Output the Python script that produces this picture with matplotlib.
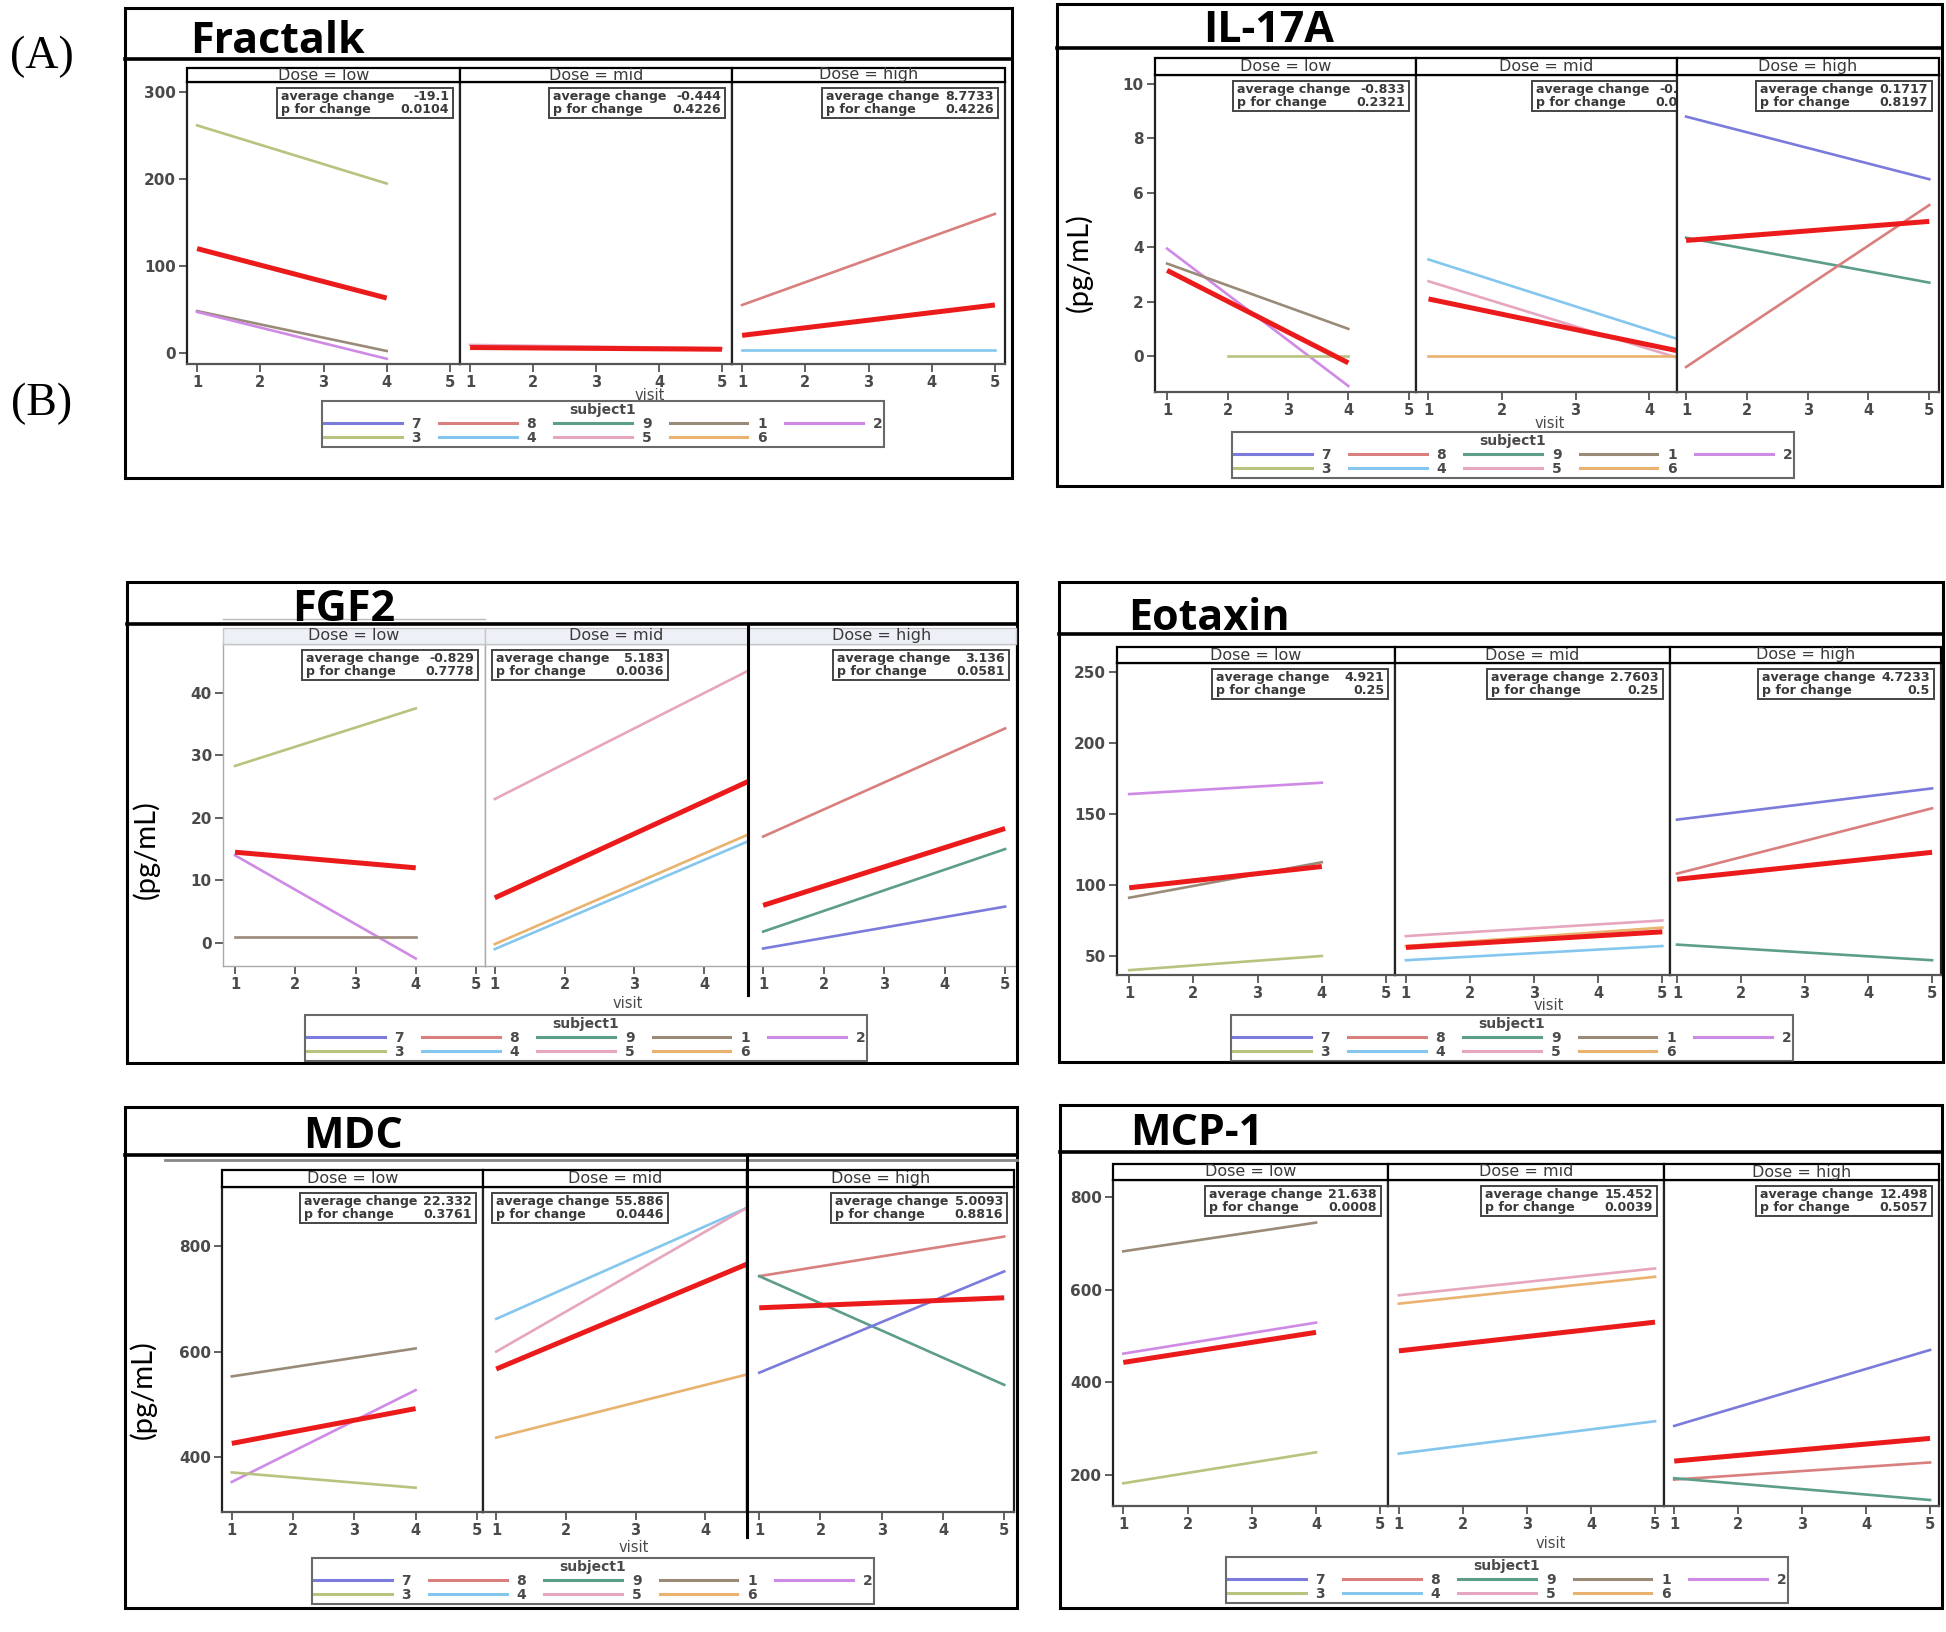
import matplotlib
matplotlib.use('Agg')
import matplotlib.pyplot as plt
from matplotlib.patches import Rectangle
from matplotlib.lines import Line2D

# ---- data: (subject, value at first visit, value at last visit[, first visit]) ----
doses = ['low', 'mid', 'high']
low_visits = [1, 4]
other_visits = [1, 5]

fractalk_low = [('3', 262, 195), ('1', 48, 2), ('2', 47, -7), ('mean', 120, 63)]
fractalk_mid = [('5', 9, 5), ('mean', 6, 4)]
fractalk_high = [('8', 55, 160), ('4', 3, 3), ('mean', 20, 55)]
fractalk_stats = [('-19.1', '0.0104'), ('-0.444', '0.4226'), ('8.7733', '0.4226')]
fractalk_yticks = [0, 100, 200, 300]

il17a_low = [('2', 3.95, -1.1), ('1', 3.4, 1.0), ('3', 0, 0, 2), ('mean', 3.15, -0.25)]
il17a_mid = [('4', 3.55, 0.1), ('5', 2.75, -0.57), ('6', 0, 0), ('mean', 2.1, -0.15)]
il17a_high = [('7', 8.8, 6.5), ('9', 4.35, 2.7), ('8', -0.4, 5.55), ('mean', 4.25, 4.95)]
il17a_stats = [('-0.833', '0.2321'), ('-0.563', '0.0912'), ('0.1717', '0.8197')]
il17a_yticks = [0, 2, 4, 6, 8, 10]

fgf2_low = [('3', 28.3, 37.5), ('2', 14, -2.5), ('1', 1, 1), ('mean', 14.5, 12)]
fgf2_mid = [('5', 23, 45.6), ('6', -0.2, 19.1), ('4', -1.0, 18.0), ('mean', 7.2, 27.7)]
fgf2_high = [('8', 17, 34.3), ('9', 1.8, 15), ('7', -0.9, 5.8), ('mean', 6, 18.3)]
fgf2_stats = [('-0.829', '0.7778'), ('5.183', '0.0036'), ('3.136', '0.0581')]
fgf2_yticks = [0, 10, 20, 30, 40]

eotaxin_low = [('2', 164, 172), ('1', 91, 116), ('3', 40, 50), ('mean', 98, 113)]
eotaxin_mid = [('5', 64, 75), ('6', 57, 70), ('4', 47, 57), ('mean', 56, 67)]
eotaxin_high = [('7', 146, 168), ('8', 108, 154), ('9', 58, 47), ('mean', 104, 123)]
eotaxin_stats = [('4.921', '0.25'), ('2.7603', '0.25'), ('4.7233', '0.5')]
eotaxin_yticks = [50, 100, 150, 200, 250]

mdc_low = [('1', 553, 606), ('2', 353, 527), ('3', 371, 342), ('mean', 426, 492)]
mdc_mid = [('4', 662, 896), ('5', 600, 903), ('6', 437, 570), ('mean', 567, 788)]
mdc_high = [('8', 743, 818), ('9', 743, 537), ('7', 560, 752), ('mean', 683, 702)]
mdc_stats = [('22.332', '0.3761'), ('55.886', '0.0446'), ('5.0093', '0.8816')]
mdc_yticks = [400, 600, 800]

mcp1_low = [('1', 683, 745), ('2', 462, 529), ('3', 182, 249), ('mean', 443, 508)]
mcp1_mid = [('5', 588, 646), ('6', 570, 628), ('4', 246, 316), ('mean', 468, 530)]
mcp1_high = [('7', 306, 470), ('8', 190, 227), ('9', 193, 146), ('mean', 230, 279)]
mcp1_stats = [('21.638', '0.0008'), ('15.452', '0.0039'), ('12.498', '0.5057')]
mcp1_yticks = [200, 400, 600, 800]

# legend reads row by row: 7 8 9 1 2 / 3 4 5 6 (matplotlib fills by column)
legend_order = ['7', '3', '8', '4', '9', '5', '1', '6', '2']

# ---- styles ----
colors = {'7': '#7b7bdc', '8': '#d97f7d', '9': '#5d9e8b', '1': '#9a8b79',
          '2': '#cf8ae6', '3': '#b9c27e', '4': '#84c6ee', '5': '#e6a6bf',
          '6': '#e9b26f'}
MEAN = '#ec1b1b'
SAS = ['DejaVu Sans']
GREY_TXT = '#4a4a4a'

W, H = 1946, 1632
fig = plt.figure(figsize=(W / 100, H / 100), dpi=100)


def fx(x):
    return x / W


def fy(y):
    return 1 - y / H


def fig_line(x0, y0, x1, y1, color='black', lw=2.0):
    fig.add_artist(Line2D([fx(x0), fx(x1)], [fy(y0), fy(y1)], color=color, lw=lw,
                          transform=fig.transFigure))


# layout in pixels of the 1946x1632 image; title = (left x, baseline y)
layouts = [
    dict(name='Fractalk', data=[fractalk_low, fractalk_mid, fractalk_high], stats=fractalk_stats,
         yticks=fractalk_yticks, box=(125, 8, 1012, 478), title=(190, 53), tline=59,
         strip=(68, 82), xs=[187, 460, 732, 1005], bottom=364, ylim=(-13, 312),
         xlims=[(0.84, 5.16), (0.84, 5.16), (0.84, 5.16)], ylabel=None,
         visit=(650, 396), legend=(603, 424), stat_pos=['r', 'r', 'r']),
    dict(name='IL-17A', data=[il17a_low, il17a_mid, il17a_high], stats=il17a_stats,
         yticks=il17a_yticks, box=(1057, 4, 1942, 486), title=(1203, 42), tline=48,
         strip=(58, 75), xs=[1155, 1416, 1677, 1939], bottom=392, ylim=(-1.32, 10.33),
         xlims=[(0.8, 5.12), (0.83, 4.38), (0.85, 5.16)], ylabel=(1079, 263),
         visit=(1550, 423), legend=(1513, 455), stat_pos=['r', 116, 'r']),
    dict(name='FGF2', data=[fgf2_low, fgf2_mid, fgf2_high], stats=fgf2_stats,
         yticks=fgf2_yticks, box=(127, 582, 1017, 1063), title=(292, 621), tline=624,
         strip=(628, 644), xs=[223, 485, 748, 1016], bottom=966, ylim=(-3.7, 47.8),
         xlims=[(0.8, 5.15), (0.86, 4.63), (0.75, 5.18)], ylabel=(146, 850),
         visit=(628, 1003), legend=(586, 1038), stat_pos=['r', 7, 'r'], light=True,
         vline=(748, 624, 995)),
    dict(name='Eotaxin', data=[eotaxin_low, eotaxin_mid, eotaxin_high], stats=eotaxin_stats,
         yticks=eotaxin_yticks, box=(1059, 582, 1943, 1062), title=(1128, 630), tline=634,
         strip=(647, 663), xs=[1117, 1395, 1670, 1941], bottom=975, ylim=(36.6, 256.3),
         xlims=[(0.81, 5.14), (0.83, 5.12), (0.89, 5.14)], ylabel=None,
         visit=(1549, 1006), legend=(1512, 1038), stat_pos=['r', 'r', 'r']),
    dict(name='MDC', data=[mdc_low, mdc_mid, mdc_high], stats=mdc_stats,
         yticks=mdc_yticks, box=(125, 1107, 1017, 1608), title=(303, 1148), tline=1155,
         strip=(1170, 1187), xs=[222, 483, 747, 1014], bottom=1512, ylim=(296, 912),
         xlims=[(0.84, 5.1), (0.81, 4.6), (0.8, 5.16)], ylabel=(143, 1390),
         visit=(634, 1547), legend=(593, 1581), stat_pos=['r', 9, 'r'],
         vline=(747, 1155, 1537), gline=1160),
    dict(name='MCP-1', data=[mcp1_low, mcp1_mid, mcp1_high], stats=mcp1_stats,
         yticks=mcp1_yticks, box=(1060, 1105, 1942, 1608), title=(1130, 1145), tline=1152,
         strip=(1164, 1180), xs=[1113, 1388, 1664, 1939], bottom=1506, ylim=(133, 837),
         xlims=[(0.84, 5.12), (0.83, 5.14), (0.84, 5.14)], ylabel=None,
         visit=(1551, 1544), legend=(1507, 1580), stat_pos=['r', 'r', 'r']),
]

BOX_W, BOX_H = 176, 30


def stats_box(ax, left, top, avg, pval):
    ax.add_patch(Rectangle((fx(left), fy(top + BOX_H)), BOX_W / W, BOX_H / H,
                           transform=fig.transFigure, facecolor='white',
                           edgecolor='#444444', lw=1.4, zorder=5))
    for i, (lab, val) in enumerate([('average change', avg), ('p for change', pval)]):
        yy = fy(top + 8.5 + i * 13)
        kw = dict(transform=fig.transFigure, fontsize=9.1, fontweight='bold', family=SAS,
                  va='center', color='#3a3a3a', clip_on=True, zorder=6)
        ax.text(fx(left + 4), yy, lab, ha='left', **kw)
        ax.text(fx(left + BOX_W - 4), yy, val, ha='right', **kw)


def draw_panel(p):
    light = p.get('light', False)
    x0, y0, x1, y1 = p['box']
    fig.add_artist(Rectangle((fx(x0), fy(y1)), (x1 - x0) / W, (y1 - y0) / H,
                             transform=fig.transFigure, fill=False, edgecolor='black', lw=2.2))
    fig.text(fx(p['title'][0]), fy(p['title'][1]), p['name'], fontsize=31, fontweight='bold',
             family=['Open Sans', 'DejaVu Sans'], va='baseline', ha='left')
    fig_line(x0, p['tline'], x1, p['tline'], lw=2.6)
    if light:
        fig_line(p['xs'][0], p['tline'] - 5, p['xs'][1], p['tline'] - 5, color='#bbbbbb', lw=1)
    if 'gline' in p:
        fig_line(x0 + 40, p['gline'], x1, p['gline'], color='#888888', lw=2)

    st_top, st_bot = p['strip']
    for k, dose in enumerate(doses):
        a, b = p['xs'][k], p['xs'][k + 1]
        # strip header
        fig.add_artist(Rectangle((fx(a), fy(st_bot)), (b - a) / W, (st_bot - st_top) / H,
                                 transform=fig.transFigure,
                                 facecolor='#eef0f7' if light else 'white',
                                 edgecolor='#c8c8c8' if light else 'black',
                                 lw=1 if light else 1.6))
        fig.text(fx((a + b) / 2), fy((st_top + st_bot) / 2), f'Dose = {dose}', fontsize=11.5,
                 family=SAS, color='#3a3a3a', ha='center', va='center')

        ax = fig.add_axes([fx(a), fy(p['bottom']), (b - a) / W, (p['bottom'] - st_bot) / H])
        for sp in ax.spines.values():
            sp.set_color('#aaaaaa' if light else '#222222')
            sp.set_linewidth(1.0 if light else 1.6)
        ax.spines['bottom'].set_color('#aaaaaa' if light else '#555555')

        visits = low_visits if dose == 'low' else other_visits
        series = p['data'][k]
        for entry in series:
            subj, ya, yb = entry[0], entry[1], entry[2]
            xa = entry[3] if len(entry) > 3 else visits[0]
            if subj == 'mean':
                continue
            ax.plot([xa, visits[1]], [ya, yb], color=colors[subj], lw=1.9, zorder=2)
        for entry in series:
            if entry[0] == 'mean':
                ax.plot(visits, [entry[1], entry[2]], color=MEAN, lw=3.6, zorder=3,
                        solid_capstyle='butt')

        ax.set_xlim(*p['xlims'][k])
        ax.set_ylim(*p['ylim'])
        ax.set_xticks([t for t in [1, 2, 3, 4, 5] if p['xlims'][k][0] <= t <= p['xlims'][k][1]])
        ax.tick_params(axis='x', length=6, width=1.3, pad=2, labelsize=10.5,
                       colors='#555555', labelcolor=GREY_TXT)
        if k == 0:
            ax.set_yticks(p['yticks'])
            ax.tick_params(axis='y', length=6, width=1.3, pad=2, labelsize=11,
                           colors='#555555', labelcolor=GREY_TXT)
        else:
            ax.set_yticks([])
        for lab in ax.get_xticklabels() + ax.get_yticklabels():
            lab.set_family(SAS)
            lab.set_fontweight('bold')

        avg, pval = p['stats'][k]
        pos = p['stat_pos'][k]
        left = b - 7 - BOX_W if pos == 'r' else a + pos
        stats_box(ax, left, st_bot + 6, avg, pval)

    if 'vline' in p:
        vx, va_, vb = p['vline']
        fig_line(vx, va_, vx, vb, lw=2.2)

    if p['ylabel'] is not None:
        fig.text(fx(p['ylabel'][0]), fy(p['ylabel'][1]), '(pg/mL)', rotation=90, fontsize=21,
                 family=['Lato', 'DejaVu Sans'], ha='center', va='center')
    fig.text(fx(p['visit'][0]), fy(p['visit'][1]), 'visit', fontsize=10.5, family=SAS,
             color=GREY_TXT, ha='center', va='center')

    handles = [Line2D([], [], color=colors[s], lw=2.2) for s in legend_order]
    leg = fig.legend(handles, legend_order, loc='center', ncol=5, title='subject1',
                     bbox_to_anchor=(fx(p['legend'][0]), fy(p['legend'][1])),
                     frameon=True, fancybox=False, edgecolor='#444444',
                     handlelength=5.6, handletextpad=0.7, columnspacing=1.3,
                     labelspacing=0.0, borderpad=0.15,
                     prop={'family': SAS, 'size': 10, 'weight': 'bold'},
                     title_fontproperties={'family': SAS, 'size': 10, 'weight': 'bold'})
    leg.get_frame().set_linewidth(1.5)
    leg.get_title().set_color(GREY_TXT)
    for t in leg.get_texts():
        t.set_color(GREY_TXT)


for p in layouts:
    draw_panel(p)

fig.text(fx(42), fy(57), '(A)', fontsize=33, family=['Liberation Serif', 'DejaVu Serif'],
         ha='center', va='center')
fig.text(fx(42), fy(404), '(B)', fontsize=33, family=['Liberation Serif', 'DejaVu Serif'],
         ha='center', va='center')

fig.savefig('out.png', dpi=100)
